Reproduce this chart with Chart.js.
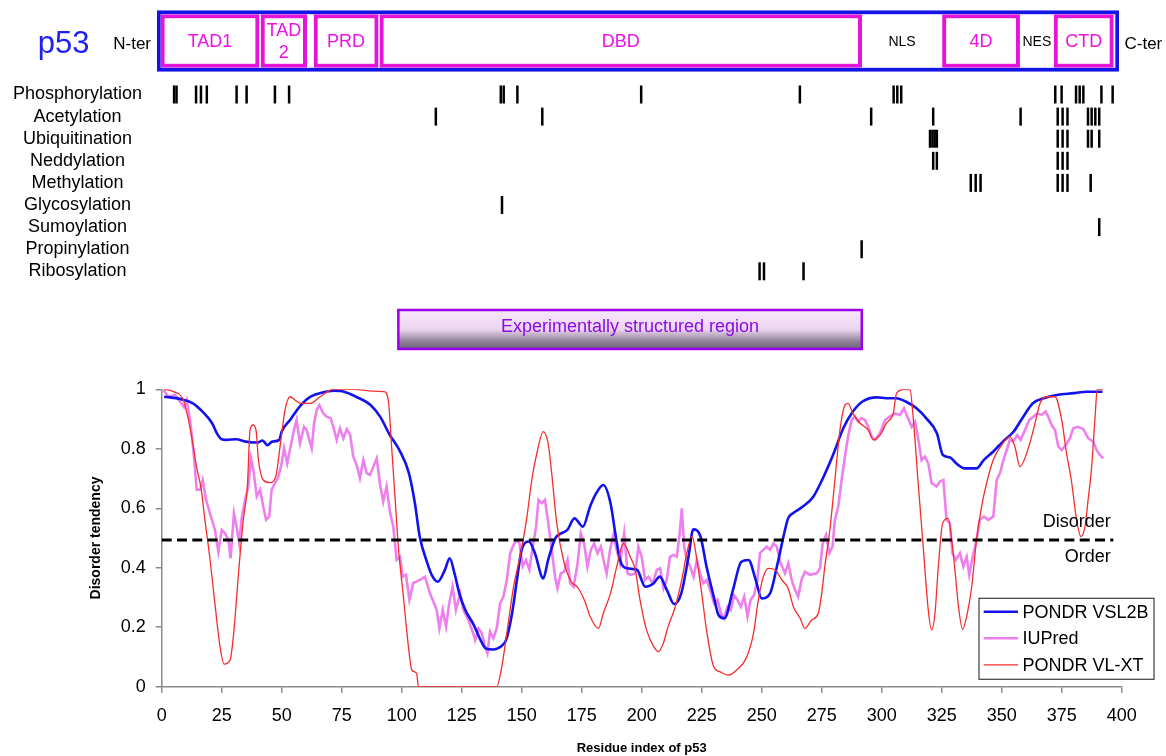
<!DOCTYPE html>
<html>
<head>
<meta charset="utf-8">
<script src="https://cdn.jsdelivr.net/npm/chart.js@4.4.0/dist/chart.umd.min.js"></script>
<style>
  html, body { margin: 0; padding: 0; background: #fff; }
  #wrap { position: relative; width: 1166px; height: 756px; overflow: hidden; }
  canvas { position: absolute; left: 0; }
  #domainCanvas { top: 0; }
  #ptmCanvas { top: 80px; }
  #plotCanvas { top: 290px; }
</style>
</head>
<body>
<div id="wrap">
  <canvas id="domainCanvas" width="1166" height="80"></canvas>
  <canvas id="ptmCanvas" width="1166" height="205"></canvas>
  <canvas id="plotCanvas" width="1166" height="466"></canvas>
</div>
<script>
const FONT = "'Liberation Sans', Arial, sans-serif";

// ---- domain map (residue positions) ----
const proteinSpan = [0, 394];
const domainNames = ["TAD1", "TAD2", "PRD", "DBD", "NLS", "4D", "NES", "CTD"];
const domainStart = [1.6, 42.6, 64.3, 91.3, 288.6, 321.7, 353.3, 367.4];
const domainEnd = [41.8, 61.3, 90.6, 288.6, 321.7, 353.3, 367.4, 391.7];

// ---- post-translational modification sites ----
const ptmNames = [
  "Phosphorylation", "Acetylation", "Ubiquitination", "Neddylation",
  "Methylation", "Glycosylation", "Sumoylation", "Propinylation", "Ribosylation",
];
const phosphorylation = [7, 8, 16, 18, 20.4, 32.6, 36.7, 48.3, 54.1, 140.8, 142, 147.6,
  198.3, 263.3, 301.7, 303.2, 304.8, 367.9, 370.5, 376.4, 377.9, 379.4, 386.8, 391.4];
const acetylation = [114.2, 157.8, 292.5, 317.9, 353.7, 368.9, 370.9, 372.9, 381.3, 382.8, 384.3, 385.9];
const ubiquitination = [316.6, 317.6, 318.5, 319.4, 368.9, 370.9, 372.9, 381.3, 382.8, 385.9];
const neddylation = [317.9, 319.4, 368.9, 370.9, 372.9];
const methylation = [333.3, 335.3, 337.3, 368.9, 370.9, 372.9, 382.4];
const glycosylation = [141.3];
const sumoylation = [385.9];
const propinylation = [288.6];
const ribosylation = [246.8, 248.6, 264.8];
const ptmSites = [phosphorylation, acetylation, ubiquitination, neddylation,
  methylation, glycosylation, sumoylation, propinylation, ribosylation];

// ---- disorder profile ----
const structuredRegion = [98.6, 291.7];
const threshold = 0.493;
const thresholdEnd = 396.5;
const xTicks = { min: 0, max: 400, step: 25 };
const yTicks = { min: 0, max: 1, step: 0.2 };

// [residue, score]
const vsl2b = [
  [1, .975], [8, .967], [13, .953], [17, .925], [21, .886], [23, .852], [25, .832], [27, .83],
  [31, .832], [35, .824], [40, .821], [42, .828], [44, .812], [46, .824], [49, .83], [50, .858],
  [53.5, .897], [58, .947], [62, .975], [67, .989], [71.5, .995], [76, .992], [81, .975], [87, .947],
  [91, .908], [95, .847], [99, .796], [103, .718], [105.5, .617], [107.5, .505], [110.5, .42],
  [112.5, .376], [115, .353], [118, .393], [120, .432], [122, .381], [124, .314], [126.5, .258],
  [130, .208], [132.5, .163], [135, .129], [138, .125], [140, .129], [142, .14], [143.5, .157],
  [146, .247], [148, .359], [150, .46], [153, .488], [155.5, .449], [159, .364], [161, .426],
  [164, .499], [166, .514], [169, .527], [172, .566], [175.5, .538], [178.5, .606], [181, .65],
  [184, .678], [187, .617], [189, .516], [191, .426], [194, .398], [198, .393], [201.5, .336],
  [205, .348], [207.5, .37], [210.5, .325], [213.5, .278], [216.5, .314], [219.5, .437],
  [221.5, .529], [224.5, .505], [227, .404], [230, .303], [232, .241], [234.5, .23], [238, .325],
  [241.5, .42], [244.5, .426], [247.5, .359], [250, .297], [253.5, .314], [256.5, .41],
  [259.5, .52], [261, .566], [263, .583], [267, .605], [271.5, .639], [275.5, .701], [280, .785],
  [284, .869], [288, .925], [292, .959], [298, .973], [302, .97], [306, .97], [310, .959],
  [314.5, .936], [318.5, .903], [323, .852], [325.5, .779], [328.5, .771], [331, .751],
  [334.5, .734], [339.5, .734], [342.5, .762], [346.5, .791], [350.5, .824], [355, .858],
  [359, .908], [363, .953], [367.5, .97], [373, .981], [380, .987], [385.5, .992], [392, .992],
];

const iupred = [
  [0.7, .998], [2.8, .975], [5.5, .981], [7.6, .959], [9.3, .94], [10.4, .964], [11.8, .897],
  [13.2, .796], [14.6, .662], [16, .662], [17.1, .695], [18.5, .628], [20.1, .583], [22.2, .527],
  [23.6, .454], [25, .527], [26.4, .516], [27.8, .493], [28.7, .432], [30.1, .583], [31.2, .538],
  [32.3, .482], [33.3, .566], [34.7, .628], [36.1, .673], [37.2, .768], [38.2, .729], [39.6, .64],
  [41, .662], [42.3, .606], [43.5, .561], [44.8, .572], [45.8, .662], [47.2, .684], [48.6, .706],
  [50, .751], [51, .802], [52.3, .751], [53.7, .807], [55.1, .863], [56.2, .897], [57.6, .818],
  [59.3, .874], [60.4, .863], [62.5, .802], [63.5, .886], [64.6, .931], [65.7, .947], [67.3, .919],
  [68.7, .908], [70.4, .903], [71.5, .874], [72.9, .83], [74.3, .869], [75.7, .835], [77.1, .866],
  [78.5, .847], [79.8, .774], [81.2, .746], [82.6, .701], [84, .762], [85.4, .718], [86.8, .712],
  [88.2, .74], [89.6, .768], [90.9, .684], [92.3, .622], [93.7, .673], [95.1, .589], [96.5, .538],
  [97.9, .426], [99.3, .437], [100.4, .37], [101.8, .376], [103.2, .292], [104.8, .348],
  [107.6, .359], [109.7, .37], [111.8, .314], [113.2, .286], [114.6, .258], [115.7, .196],
  [117.1, .258], [118.5, .202], [119.8, .28], [121.2, .336], [122.6, .258], [124.3, .314],
  [125.7, .258], [127.8, .224], [129.8, .179], [130.6, .157], [132, .196], [133.4, .18],
  [134.7, .135], [135.7, .112], [136.8, .185], [138.2, .163], [139.6, .196], [141, .28],
  [142.4, .303], [143.8, .359], [145.2, .449], [146.3, .471], [147.7, .493], [149.1, .482],
  [150.4, .404], [151.8, .426], [153.2, .393], [154.6, .471], [156, .538], [157, .628],
  [158.4, .617], [159.7, .628], [161.1, .549], [162.5, .46], [163.9, .37], [164.9, .331],
  [166.3, .381], [167.7, .387], [169.1, .426], [170.2, .348], [171.6, .336], [173.2, .409],
  [174.6, .516], [176, .482], [177.4, .404], [178.8, .46], [180.2, .482], [181.6, .449],
  [183, .471], [184.1, .426], [185.4, .381], [186.8, .46], [188.2, .51], [189.6, .46],
  [191, .415], [192.7, .516], [194.1, .381], [195.4, .376], [197.3, .381], [198.6, .471],
  [200, .437], [201.4, .359], [202.8, .37], [204.6, .348], [206.3, .393], [207.7, .398],
  [209.1, .331], [210.4, .359], [211.8, .437], [213.2, .443], [214.6, .437], [215.7, .505],
  [216.7, .6], [217.7, .471], [218.8, .426], [220.2, .404], [221.6, .37], [223, .426],
  [224.3, .381], [225.7, .348], [227.1, .359], [228.5, .325], [230.2, .28], [231.6, .292],
  [233, .247], [234.3, .23], [235.7, .269], [237.1, .258], [238.5, .308], [239.9, .292],
  [241.3, .269], [242.7, .303], [244.1, .236], [245.4, .292], [246.8, .308], [248.2, .359],
  [249.3, .449], [250.7, .46], [252.1, .471], [253.5, .46], [254.9, .482], [256.3, .471],
  [257.7, .42], [259.7, .381], [261.1, .415], [262.5, .359], [263.9, .325], [265.2, .303],
  [266.6, .359], [268, .387], [270.1, .376], [272.9, .381], [274.3, .398], [275.4, .482],
  [276.8, .51], [278.2, .449], [279.5, .471], [280.5, .561], [281.9, .606], [283.3, .695],
  [284.7, .774], [286.1, .846], [287.5, .897], [288.9, .908], [290.2, .891], [291.6, .903],
  [293, .897], [294.4, .874], [295.8, .841], [297.2, .83], [299.3, .852], [301.4, .897],
  [303.4, .908], [305.5, .919], [307.6, .914], [309.3, .936], [310.7, .908], [312.5, .874],
  [313.9, .891], [315.2, .835], [316.6, .762], [318, .774], [319.4, .751], [320.8, .684],
  [322.9, .673], [324.3, .69], [325.7, .695], [327, .561], [328.4, .55], [329.5, .449],
  [330.9, .426], [332.6, .449], [334, .404], [335.4, .437], [336.5, .376], [337.9, .437],
  [339.5, .493], [340.9, .561], [342.6, .572], [344.4, .561], [346.5, .572], [347.9, .695],
  [349.3, .718], [350.7, .762], [352.1, .796], [353.4, .83], [354.8, .824], [356.5, .846],
  [357.9, .83], [359.7, .863], [361.5, .897], [363.2, .908], [364.8, .919], [366.6, .914],
  [368.3, .925], [369.4, .908], [370.8, .88], [372.2, .863], [373.6, .807], [375, .796],
  [376.8, .813], [378.4, .835], [379.8, .869], [381.9, .874], [384, .866], [386.1, .835],
  [388.2, .824], [389.5, .796], [390.9, .779], [392.3, .768],
];

const vlxt = [
  [1, 1], [5, .992], [9, .964], [12, .863], [14.5, .74], [16.5, .662], [18, .561], [20, .437],
  [22, .292], [24.3, .135], [26, .076], [28.5, .09], [30, .18], [32, .381], [34, .561],
  [35.7, .673], [36.8, .863], [38, .88], [39.3, .863], [40.3, .763], [42.3, .695], [45, .686],
  [47.5, .706], [49.3, .807], [51.4, .931], [53.5, .975], [55.5, .964], [58, .953], [62, .953],
  [66, .975], [71.5, 1], [80, 1], [88, .994], [92.6, .992], [94.4, .964], [95.8, .807],
  [97.2, .64], [98.6, .471], [100.7, .303], [102.8, .135], [104.2, .056], [106.2, .045],
  [107, 0], [139.6, 0], [141.7, .067], [143.8, .18], [146.6, .336], [149.3, .437], [152, .561],
  [154.2, .695], [156.3, .785], [159, .858], [161, .818], [162.5, .718], [164.6, .55],
  [167.4, .426], [170.2, .359], [173.6, .331], [176.4, .286], [178.5, .236], [182, .196],
  [184, .247], [187, .314], [189.6, .404], [192.4, .482], [195.2, .437], [197.3, .393],
  [199.3, .292], [202, .191], [205, .135], [207, .118], [209, .146], [211, .202], [214, .269],
  [216.7, .359], [218.8, .449], [221, .505], [223, .426], [225, .314], [227, .191], [230, .067],
  [232.7, .05], [236, .039], [239.6, .056], [243.8, .101], [246.6, .18], [248.6, .292],
  [250.7, .37], [252.8, .398], [255.6, .393], [258.4, .359], [261, .331], [263.2, .269],
  [266, .23], [268, .196], [270.8, .224], [273.6, .247], [275, .314], [276.3, .404],
  [278.4, .527], [280.5, .695], [282.6, .863], [284.7, .947], [286, .953], [288, .919],
  [291, .886], [294.4, .863], [296.5, .83], [299.3, .846], [302, .886], [304.8, .919],
  [306.2, .987], [309.7, 1], [311.8, .998], [313.2, .897], [315.2, .684], [317.3, .471],
  [319.4, .258], [320.8, .191], [322.2, .247], [323.6, .404], [325.4, .55], [327.7, .566],
  [329, .505], [330.5, .393], [332, .269], [333.7, .193], [335.4, .236], [337.5, .336],
  [339.5, .493], [341.6, .605], [343.7, .684], [346.5, .763], [350, .813], [353.4, .841],
  [355.5, .807], [357.6, .74], [360.4, .785], [363.2, .863], [366, .953], [368.7, .975],
  [372.2, .975], [375, .897], [377, .785], [379, .695], [381.2, .561], [383, .505],
  [384.7, .538], [386, .628], [387.5, .74], [389, .919], [389.8, 1], [392.3, 1],
];

const UNBOXED = ["NLS", "NES"];
const MAGENTA = "#e414d8";
const BLUE = "#1414e4";

function toPoints(pairs) {
  return pairs.map(([x, y]) => ({ x, y }));
}

const baseOptions = {
  responsive: false,
  animation: false,
  devicePixelRatio: 1,
  events: [],
  plugins: { legend: { display: false }, tooltip: { enabled: false } },
};

// ---------- domain bar ----------
const domainLabels = {
  id: "domainLabels",
  afterDatasetsDraw(chart) {
    const { ctx, chartArea, scales } = chart;
    const cy = (chartArea.top + chartArea.bottom) / 2 + 1;
    ctx.save();
    ctx.textAlign = "center";
    ctx.textBaseline = "middle";
    domainNames.forEach((name, i) => {
      const x0 = scales.x.getPixelForValue(domainStart[i]);
      const x1 = scales.x.getPixelForValue(domainEnd[i]);
      const cx = (x0 + x1) / 2;
      const boxed = !UNBOXED.includes(name);
      ctx.font = boxed ? `18px ${FONT}` : `14px ${FONT}`;
      ctx.fillStyle = boxed ? "#f010e4" : "#000";
      if (boxed && ctx.measureText(name).width > x1 - x0 - 6) {
        ctx.fillText(name.slice(0, -1), cx, cy - 10.8);
        ctx.fillText(name.slice(-1), cx, cy + 10.8);
      } else {
        ctx.fillText(name, cx, cy);
      }
    });
    // protein name and termini
    ctx.textBaseline = "alphabetic";
    ctx.fillStyle = "#000";
    ctx.font = `17px ${FONT}`;
    ctx.textAlign = "right";
    ctx.fillText("N-ter", chartArea.left - 6, 48.5);
    ctx.textAlign = "left";
    ctx.fillText("C-ter", chartArea.right + 5.5, 48.5);
    ctx.fillStyle = "#2020f4";
    ctx.font = `31px ${FONT}`;
    ctx.textAlign = "right";
    ctx.fillText("p53", 89.5, 53.3);
    ctx.restore();
  },
};

const boxedIdx = domainNames.map((n, i) => i).filter((i) => !UNBOXED.includes(domainNames[i]));

new Chart(document.getElementById("domainCanvas"), {
  type: "bar",
  data: {
    labels: ["p53"],
    datasets: [
      {
        data: [{ y: "p53", x: proteinSpan }],
        backgroundColor: "#fff",
        borderColor: BLUE,
        borderWidth: 4,
        borderSkipped: false,
        barThickness: 61,
        grouped: false,
        order: 2,
      },
      {
        data: boxedIdx.map((i) => ({ y: "p53", x: [domainStart[i], domainEnd[i]] })),
        backgroundColor: "#fff",
        borderColor: MAGENTA,
        borderWidth: 4,
        borderSkipped: false,
        barThickness: 53,
        grouped: false,
        order: 1,
      },
    ],
  },
  options: {
    ...baseOptions,
    indexAxis: "y",
    layout: { autoPadding: false, padding: { left: 157, right: 47, top: 10, bottom: 8 } },
    scales: {
      x: { type: "linear", min: proteinSpan[0], max: proteinSpan[1], display: false },
      y: { display: false },
    },
  },
  plugins: [domainLabels],
});

// ---------- PTM rows ----------
new Chart(document.getElementById("ptmCanvas"), {
  type: "scatter",
  data: {
    datasets: ptmNames.map((name, i) => ({
      label: name,
      data: ptmSites[i].map((x) => ({ x, y: name })),
      pointStyle: "line",
      pointRadius: 9,
      pointRotation: 90,
      pointBorderWidth: 2.5,
      pointBorderColor: "#000",
      borderColor: "#000",
    })),
  },
  options: {
    ...baseOptions,
    layout: { autoPadding: false, padding: { left: 0, right: 47, top: 3.45, bottom: 2.65 } },
    scales: {
      x: { type: "linear", min: proteinSpan[0], max: proteinSpan[1], display: false },
      y: {
        type: "category",
        labels: ptmNames,
        offset: true,
        grid: { display: false, drawTicks: false },
        border: { display: false },
        ticks: {
          autoSkip: false,
          crossAlign: "center",
          padding: 15,
          color: "#000",
          font: { size: 18, family: FONT },
        },
        afterFit: (s) => {
          s.width = 157;
          s.paddingTop = 0;
          s.paddingBottom = 0;
        },
      },
    },
  },
});

// ---------- disorder plot ----------
const structuredBox = {
  id: "structuredBox",
  afterDraw(chart) {
    const { ctx, scales } = chart;
    const x0 = scales.x.getPixelForValue(structuredRegion[0]);
    const x1 = scales.x.getPixelForValue(structuredRegion[1]);
    const y0 = 20, y1 = 59;
    const grad = ctx.createLinearGradient(0, y0, 0, y1);
    grad.addColorStop(0, "#f8e8fb");
    grad.addColorStop(0.5, "#ecd4ef");
    grad.addColorStop(0.8, "#908399");
    grad.addColorStop(1, "#6a6074");
    ctx.save();
    ctx.fillStyle = grad;
    ctx.fillRect(x0, y0, x1 - x0, y1 - y0);
    ctx.strokeStyle = "#9a00f0";
    ctx.lineWidth = 2.5;
    ctx.strokeRect(x0, y0, x1 - x0, y1 - y0);
    ctx.fillStyle = "#8a0ce6";
    ctx.font = `18px ${FONT}`;
    ctx.textAlign = "center";
    ctx.textBaseline = "middle";
    ctx.fillText("Experimentally structured region", (x0 + x1) / 2, 37.5);
    ctx.restore();
  },
};

const orderLabels = {
  id: "orderLabels",
  afterDatasetsDraw(chart) {
    const { ctx, scales } = chart;
    const x = scales.x.getPixelForValue(thresholdEnd) - 2.5;
    const y = scales.y.getPixelForValue(threshold);
    ctx.save();
    ctx.fillStyle = "#000";
    ctx.font = `18px ${FONT}`;
    ctx.textAlign = "right";
    ctx.textBaseline = "middle";
    ctx.fillText("Disorder", x, y - 18.3);
    ctx.fillText("Order", x, y + 16.7);
    ctx.restore();
  },
};

const legendBox = {
  id: "legendBox",
  afterDraw(chart) {
    const { ctx, chartArea } = chart;
    const items = chart.data.datasets.filter((d) => d.label);
    const w = 175, h = 81;
    const x0 = chartArea.right + 32.3 - w;
    const y0 = chartArea.bottom - 7.4 - h;
    ctx.save();
    ctx.fillStyle = "#fff";
    ctx.fillRect(x0, y0, w, h);
    ctx.strokeStyle = "#3c3c3c";
    ctx.lineWidth = 1.2;
    ctx.strokeRect(x0, y0, w, h);
    ctx.font = `18px ${FONT}`;
    ctx.textBaseline = "middle";
    ctx.textAlign = "left";
    items.forEach((ds, i) => {
      const y = y0 + 13.4 + i * 26.6;
      ctx.strokeStyle = ds.borderColor;
      ctx.lineWidth = ds.borderWidth;
      ctx.beginPath();
      ctx.moveTo(x0 + 4.7, y);
      ctx.lineTo(x0 + 39, y);
      ctx.stroke();
      ctx.fillStyle = "#000";
      ctx.fillText(ds.label, x0 + 43.4, y + 1);
    });
    ctx.restore();
  },
};

new Chart(document.getElementById("plotCanvas"), {
  type: "line",
  data: {
    datasets: [
      {
        label: "",
        data: [{ x: 0, y: threshold }, { x: thresholdEnd, y: threshold }],
        borderColor: "#000",
        borderWidth: 3,
        borderDash: [10, 5.3],
        order: 0,
      },
      {
        label: "PONDR VSL2B",
        data: toPoints(vsl2b),
        borderColor: "#1212ee",
        borderWidth: 2.6,
        cubicInterpolationMode: "monotone",
        order: 2,
      },
      {
        label: "IUPred",
        data: toPoints(iupred),
        borderColor: "#ee80ee",
        borderWidth: 2.6,
        tension: 0,
        order: 3,
      },
      {
        label: "PONDR VL-XT",
        data: toPoints(vlxt),
        borderColor: "#f52c2c",
        borderWidth: 1.3,
        cubicInterpolationMode: "monotone",
        order: 1,
      },
    ],
  },
  options: {
    ...baseOptions,
    layout: { autoPadding: false, padding: { left: 0, right: 44.3, top: 99.3, bottom: 0 } },
    elements: { point: { radius: 0 } },
    scales: {
      x: {
        type: "linear",
        min: xTicks.min,
        max: xTicks.max,
        ticks: {
          stepSize: xTicks.step,
          autoSkip: false,
          maxRotation: 0,
          padding: 13,
          color: "#000",
          font: { size: 18, family: FONT },
        },
        grid: { drawOnChartArea: false, drawTicks: true, tickLength: 6, color: "#8a8a8a", lineWidth: 1.5 },
        border: { color: "#8a8a8a", width: 1.5 },
        title: {
          display: true,
          text: "Residue index of p53",
          color: "#000",
          font: { size: 13, weight: "bold", family: FONT },
          padding: { top: 0, bottom: 0 },
        },
        afterFit: (s) => {
          s.height = 69.3;
          s.paddingLeft = 0;
          s.paddingRight = 0;
        },
      },
      y: {
        min: yTicks.min,
        max: yTicks.max,
        ticks: {
          stepSize: yTicks.step,
          padding: 10,
          color: "#000",
          font: { size: 18, family: FONT },
          callback: (v) => String(Number(v.toFixed(1))),
        },
        grid: { drawOnChartArea: false, drawTicks: true, tickLength: 6, color: "#8a8a8a", lineWidth: 1.5 },
        border: { color: "#8a8a8a", width: 1.5 },
        title: {
          display: true,
          text: "Disorder tendency",
          color: "#000",
          font: { size: 14, weight: "bold", family: FONT },
          padding: { top: 88, bottom: 0 },
        },
        afterFit: (s) => {
          s.width = 161.7;
          s.paddingTop = 0;
          s.paddingBottom = 0;
        },
      },
    },
  },
  plugins: [structuredBox, orderLabels, legendBox],
});
</script>
</body>
</html>
